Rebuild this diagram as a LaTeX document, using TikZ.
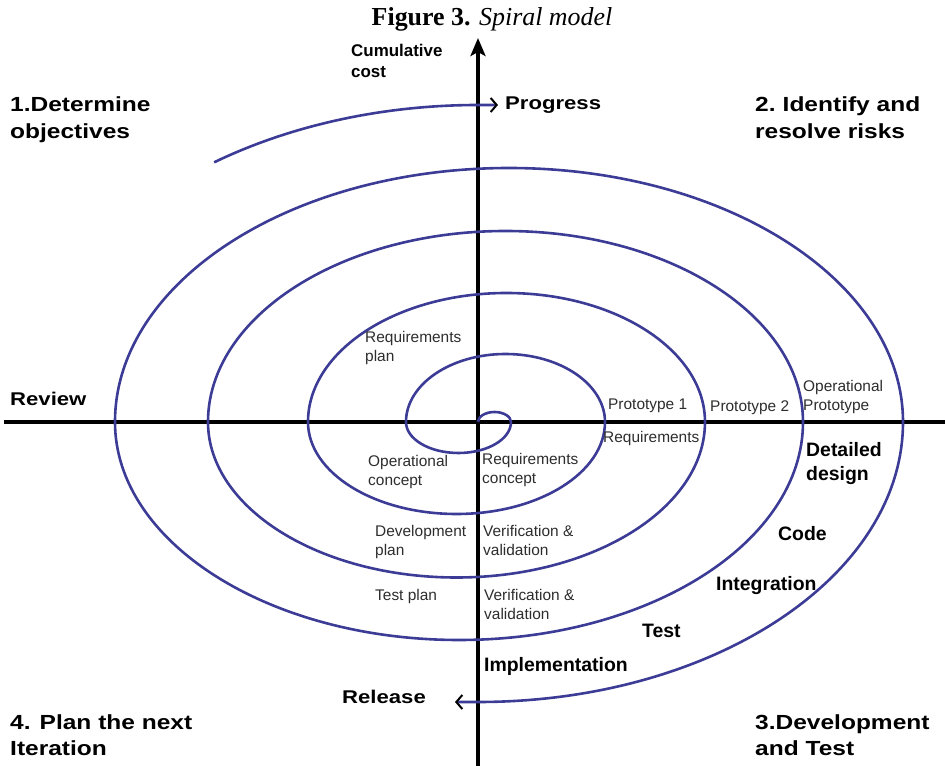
\documentclass[tikz,border=0pt]{standalone}
\usepackage{fontspec}
\setmainfont{Liberation Serif}
\newfontfamily\labfont{Liberation Sans}
\newfontfamily\widefont[FakeStretch=1.2]{Liberation Sans}
\usetikzlibrary{arrows.meta}
\definecolor{spiralblue}{RGB}{60,60,150}
\definecolor{notegray}{RGB}{45,45,45}

\begin{document}
\begin{tikzpicture}[
    x=1bp, y=1bp,
    % Define styles
    base/.style={inner sep=0pt, anchor=north west, align=left},
    corner/.style={base, font=\widefont\bfseries\fontsize{20.5}{27}\selectfont},
    phase/.style={base, font=\labfont\bfseries\fontsize{19.5}{24}\selectfont},
    note/.style={base, text=notegray, font=\labfont\fontsize{15.5}{19}\selectfont},
    axis/.style={line width=3.5bp, black},
    spiral/.style={line width=2.6bp, spiralblue},
    barb/.style={-{Straight Barb[length=6bp, width=14bp, line width=2bp, color=black]}}
]
    \useasboundingbox (-478,-344) rectangle (467,422);

    % --- TITLE ---
    \node (title) [anchor=base, font=\fontsize{26}{30}\selectfont] at (14,396) {\textbf{Figure 3.} \textit{Spiral model}};

    % --- AXES ---
    \draw [axis] (-474,0) -- (467,0);
    \draw [axis, -{Stealth[length=18bp, width=15bp, inset=4bp]}] (0,-344) -- (0,384);

    % --- SPIRAL ---
    % half ellipses, alternating above and below the axis
    \draw [spiral, barb] (0,0)
        arc[start angle=180, end angle=0, x radius=16.5, y radius=10]
        arc[start angle=0, end angle=-180, x radius=52.5, y radius=31]
        arc[start angle=180, end angle=0, x radius=99.5, y radius=68]
        arc[start angle=0, end angle=-180, x radius=148.5, y radius=92]
        arc[start angle=180, end angle=0, x radius=198.5, y radius=129]
        arc[start angle=0, end angle=-180, x radius=248.5, y radius=155.5]
        arc[start angle=180, end angle=0, x radius=297.5, y radius=191]
        arc[start angle=0, end angle=-180, x radius=344, y radius=218]
        arc[start angle=180, end angle=0, x radius=394, y radius=254]
        arc[start angle=0, end angle=-90, x radius=425, y radius=280]
        -- ++(-23,0);
    % progress piece at the top
    \draw [spiral, barb] (125:460 and 317)
        arc[start angle=125, end angle=90, x radius=460, y radius=317] -- ++(20,0);

    % --- QUADRANTS ---
    \node (determine) [corner] at (-468,325) {1.Determine\\objectives};
    \node (identify) [corner] at (277,325) {2.\hspace{-2bp} Identify and\\resolve risks};
    \node (develop) [corner] at (277,-292) {3.Development\\and Test};
    \node (plannext) [corner] at (-468,-292) {4. Plan the next\\Iteration};

    % --- AXIS LABELS ---
    \node (cost) [phase, font=\labfont\bfseries\fontsize{17}{21}\selectfont] at (-127,378) {Cumulative\\cost};
    \node (progress) [phase, font=\widefont\bfseries\fontsize{18.5}{22}\selectfont] at (27,325) {Progress};
    \node (review) [phase, font=\widefont\bfseries\fontsize{18.5}{22}\selectfont] at (-468,30) {Review};
    \node (release) [phase, font=\widefont\bfseries\fontsize{18.5}{22}\selectfont] at (-136,-268) {Release};

    % --- DEVELOPMENT STEPS ---
    \node (detailed) [phase] at (328,-20) {Detailed\\design};
    \node (code) [phase] at (300,-104) {Code};
    \node (integration) [phase] at (238,-154) {Integration};
    \node (testing) [phase] at (164,-202) {Test};
    \node (implement) [phase] at (6,-235) {Implementation};

    % --- INNER NOTES ---
    \node (reqplan) [note] at (-113,91) {Requirements\\plan};
    \node (proto1) [note] at (130,23) {Prototype 1};
    \node (proto2) [note] at (232,21) {Prototype 2};
    \node (opproto) [note] at (325,42) {Operational\\Prototype};
    \node (reqs) [note] at (125,-9) {Requirements};
    \node (opconcept) [note] at (-110,-33) {Operational\\concept};
    \node (reqconcept) [note] at (4,-31) {Requirements\\concept};
    \node (devplan) [note] at (-103,-103) {Development\\plan};
    \node (verval1) [note] at (5,-103) {Verification \&\\validation};
    \node (testplan) [note] at (-103,-167) {Test plan};
    \node (verval2) [note] at (6,-167) {Verification \&\\validation};

\end{tikzpicture}
\end{document}
